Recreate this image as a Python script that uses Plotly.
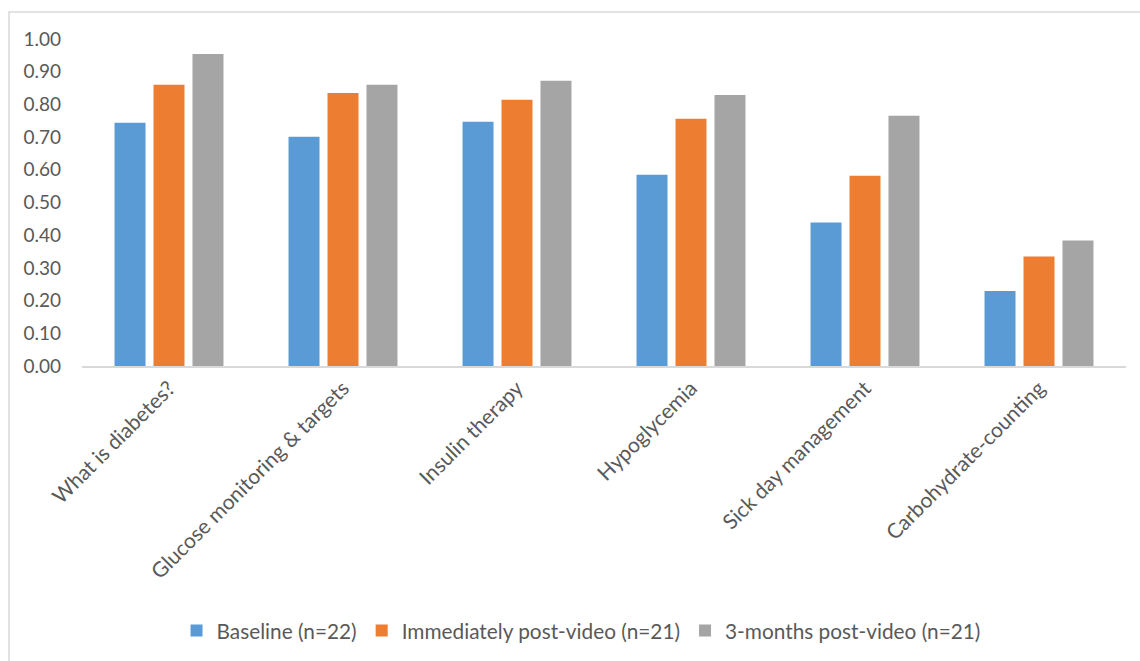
import plotly.graph_objects as go

categories = ["What is diabetes?", "Glucose monitoring & targets", "Insulin therapy",
              "Hypoglycemia", "Sick day management", "Carbohydrate-counting"]
series_names = ["Baseline (n=22)", "Immediately post-video (n=21)", "3-months post-video (n=21)"]
baseline = [0.744, 0.701, 0.747, 0.585, 0.439, 0.229]
immediate = [0.860, 0.835, 0.814, 0.756, 0.582, 0.335]
three_months = [0.954, 0.860, 0.872, 0.829, 0.765, 0.384]
colors = ["#5B9BD5", "#ED7D31", "#A5A5A5"]
y_ticks = [i / 10 for i in range(11)]

FONT = "Lato"
TXT = "#595959"

fig = go.Figure()
for name, vals, col in zip(series_names, [baseline, immediate, three_months], colors):
    fig.add_trace(go.Bar(x=categories, y=vals, name=name, marker=dict(color=col, line=dict(width=0))))

fig.update_layout(
    width=1140, height=661,
    margin=dict(l=82, r=14, t=39, b=294, pad=0),
    paper_bgcolor="white", plot_bgcolor="white",
    barmode="group", bargap=0.328, bargroupgap=0.205,
    font=dict(family=FONT, color=TXT, size=18),
    showlegend=True,
    legend=dict(orientation="h", x=0.478, xanchor="center", y=-0.805, yanchor="middle",
                font=dict(family=FONT, size=20.8, color=TXT), itemsizing="constant",
                traceorder="normal", itemwidth=30),
    xaxis=dict(showline=True, linecolor="#D9D9D9", linewidth=1.5, showgrid=False,
               tickangle=-45, tickfont=dict(family=FONT, size=21, color=TXT),
               ticks="", zeroline=False),
    yaxis=dict(range=[0, 1.0], tickvals=y_ticks, tickformat=".2f", showgrid=False,
               zeroline=False, showline=False, ticks="",
               tickfont=dict(family=FONT, size=19, color=TXT), ticklabelstandoff=20),
    shapes=[dict(type="rect", xref="paper", yref="paper",
                 x0=(9 - 82) / 1044, x1=1.05, y0=-1.0, y1=1 + (39 - 12) / 328,
                 line=dict(color="#D9D9D9", width=1.5), fillcolor="rgba(0,0,0,0)", layer="below")],
)

fig.write_html("out.html")
